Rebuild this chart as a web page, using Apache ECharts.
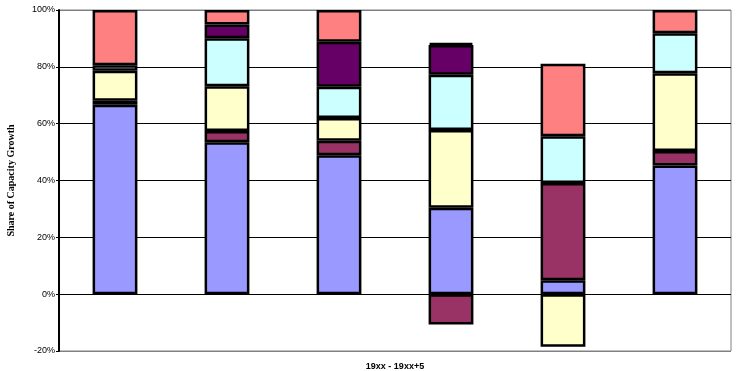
<!DOCTYPE html>
<html>
<head>
<meta charset="utf-8">
<script src="https://cdn.jsdelivr.net/npm/echarts@6/dist/echarts.min.js"></script>
<style>
    html, body { margin: 0; padding: 0; background: #fff; }
    #chart { width: 738px; height: 371px; }
</style>
</head>
<body>
<div id="chart"></div>
<script>
// six periods, no category labels shown in the original
const categories = ['1', '2', '3', '4', '5', '6'];

// share of capacity growth (%)
const series1 = [66.7, 53.5, 48.9, 30.4, 4.9, 45.3];
const series2 = [1.4, 3.9, 5.1, -10.7, 34.2, 5.1];
const series3 = [10.5, 15.8, 8.0, 27.4, -18.5, 27.3];
const series4 = [2.0, 16.9, 11.0, 19.4, 16.5, 14.1];
const series5 = [null, 4.8, 15.8, 10.5, null, null];
const series6 = [19.4, 5.1, 11.2, 0.7, 25.5, 8.2];

const yTicks = [-20, 0, 20, 40, 60, 80, 100];

const colors = ['#9999FF', '#993366', '#FFFFCC', '#CCFFFF', '#660066', '#FF8080'];
const seriesData = [series1, series2, series3, series4, series5, series6];

const chart = echarts.init(document.getElementById('chart'));

const option = {
    animation: false,
    grid: {
        left: 59,
        right: 7,
        top: 10,
        bottom: 20,
        containLabel: false,
        outerBoundsMode: 'none',
        show: true,
        borderColor: '#808080',
        borderWidth: 1
    },
    xAxis: {
        type: 'category',
        data: categories,
        axisLine: { show: false, onZero: false },
        axisTick: { show: false },
        axisLabel: { show: false },
        name: '19xx - 19xx+5',
        nameLocation: 'middle',
        nameGap: 11,
        nameTextStyle: {
            fontFamily: 'Liberation Sans',
            fontWeight: 'bold',
            fontSize: 9,
            color: '#000'
        }
    },
    yAxis: {
        type: 'value',
        min: yTicks[0],
        max: yTicks[yTicks.length - 1],
        interval: 20,
        name: 'Share of Capacity Growth',
        nameLocation: 'middle',
        nameRotate: 90,
        nameGap: 43,
        nameTextStyle: {
            fontFamily: 'Liberation Serif',
            fontWeight: 'bold',
            fontSize: 10,
            color: '#000'
        },
        axisLine: { show: true, lineStyle: { color: '#000', width: 2 } },
        axisTick: { show: true, length: 3, lineStyle: { color: '#000' } },
        axisLabel: {
            formatter: '{value}%',
            fontFamily: 'Liberation Sans',
            fontSize: 9,
            color: '#000',
            margin: 4
        },
        splitLine: {
            show: true,
            lineStyle: {
                color: ['#808080', '#000', '#000', '#000', '#000', '#000', '#808080'],
                width: 1
            }
        }
    },
    series: seriesData.map((d, i) => ({
        name: 'Series' + (i + 1),
        type: 'bar',
        stack: 'total',
        barWidth: '40%',
        data: d,
        itemStyle: {
            color: colors[i],
            borderColor: '#000',
            borderWidth: 2.5
        }
    }))
};

chart.setOption(option);
</script>
</body>
</html>
